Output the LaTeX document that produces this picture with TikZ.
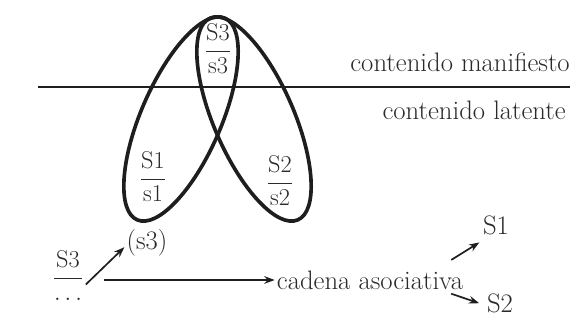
\documentclass[tikz,border=0pt]{standalone}
\usepackage{amsmath}
\usetikzlibrary{arrows.meta, positioning, calc}
\definecolor{ink}{HTML}{1E1E1E}
\definecolor{pencil}{HTML}{2A2A2A}

\begin{document}
\begin{tikzpicture}[>={Stealth[length=2.6mm, width=1.9mm]}, line width=1.2pt,
  lbl/.style={text=pencil, font=\fontsize{19}{22}\selectfont, inner sep=1pt},
  sign/.style={text=pencil, font=\fontsize{16}{19}\selectfont, inner sep=1pt},
  loopline/.style={ink, line width=2.6pt}]

\useasboundingbox (0,0) rectangle (14.4,8);

%% Upper part: the two levels
\draw[ink, line width=0.9pt] (0.95,5.825) -- (14.25,5.825);
\node[lbl, anchor=east] (manif) at (14.3,6.45) {contenido manifiesto};
\node[lbl, anchor=east] (laten) at (14.2,5.25) {contenido latente};

% Crossing loops
\draw[loopline, rotate around={66.5:(4.525,5.025)}] (4.525,5.025) ellipse [x radius=2.75, y radius=1.0];
\draw[loopline, rotate around={-66.5:(6.35,5.025)}] (6.35,5.025) ellipse [x radius=2.75, y radius=1.0];

% Signs inside the loops
\node[sign] (stop) at (5.45,6.775) {$\dfrac{\mathrm{S3}}{\mathrm{s3}}$};
\node[sign] (sone) at (3.825,3.575) {$\dfrac{\mathrm{S1}}{\mathrm{s1}}$};
\node[sign] (stwo) at (7.0,3.475) {$\dfrac{\mathrm{S2}}{\mathrm{s2}}$};

%% Lower part: the chain
\node[lbl] (sthree) at (3.675,1.925) {(s3)};
\node[sign] (chain) at (1.7,1.1) {$\dfrac{\mathrm{S3}}{\dots}$};
\node[lbl] (cadena) at (9.25,1.0) {cadena asociativa};
\node[lbl] (outone) at (12.4,2.375) {S1};
\node[lbl] (outtwo) at (12.5,0.42) {S2};
\coordinate (hstart) at (2.6,1.0);

\draw[ink, ->] ([yshift=-6pt]chain.east) -- ([yshift=-3pt]sthree.west);
\draw[ink, ->] (hstart) -- (cadena.west);
\draw[ink, ->] ([xshift=-10pt,yshift=6pt]cadena.north east) -- ([xshift=-1pt,yshift=-4pt]outone.south west);
\draw[ink, ->] ([xshift=-10pt,yshift=-1.5pt]cadena.south east) -- ([xshift=-4pt,yshift=0pt]outtwo.west);

\end{tikzpicture}
\end{document}
